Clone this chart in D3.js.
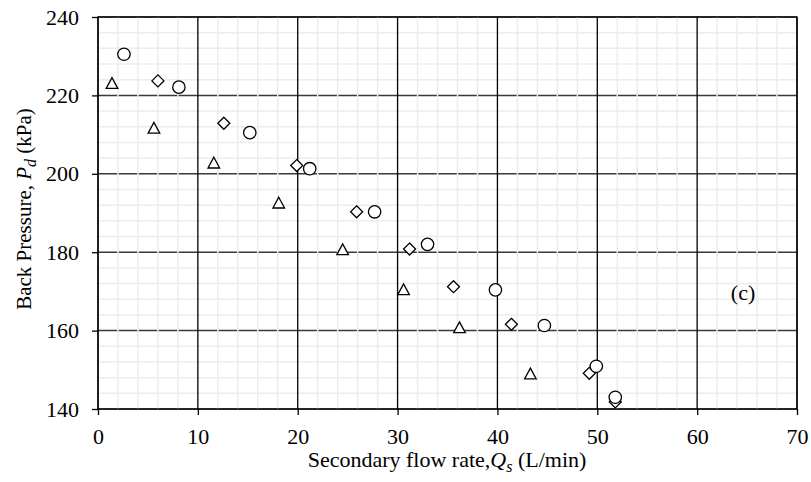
<!DOCTYPE html>
<html>
<head>
<meta charset="utf-8">
<script src="https://cdn.jsdelivr.net/npm/d3@7"></script>
<style>
  body { margin: 0; background: #fff; }
  text { font-family: "Liberation Serif", "Times New Roman", serif; fill: #000; }
</style>
</head>
<body>
<div id="chart"></div>
<script>
// series: [Qs (L/min), Pd (kPa)]
var circleData = [
  [2.6, 230.5], [8.1, 222.1], [15.2, 210.5], [21.2, 201.3], [27.7, 190.3],
  [33.0, 182.0], [39.8, 170.4], [44.7, 161.3], [49.9, 150.9], [51.8, 143.0]
];
var diamondData = [
  [6.0, 223.7], [12.6, 212.9], [19.9, 202.1], [25.9, 190.3], [31.2, 180.8],
  [35.6, 171.2], [41.4, 161.6], [49.2, 149.1], [51.8, 141.8]
];
var triangleData = [
  [1.4, 223.0], [5.6, 211.6], [11.6, 202.7], [18.1, 192.5], [24.5, 180.6],
  [30.6, 170.4], [36.2, 160.7], [43.3, 148.9]
];
var xTicks = [0, 10, 20, 30, 40, 50, 60, 70];
var yTicks = [140, 160, 180, 200, 220, 240];
var xMinor = d3.range(0, 70.1, 2);
var yMinor = d3.range(140, 240.1, 4);

var margin = { top: 17, right: 14, bottom: 73, left: 98 },
  width = 811 - margin.left - margin.right,
  height = 482 - margin.top - margin.bottom;

var svg = d3
  .select("#chart")
  .append("svg")
  .attr("width", 811)
  .attr("height", 482)
  .append("g")
  .attr("transform", "translate(" + margin.left + "," + margin.top + ")");

var x = d3.scaleLinear().domain([0, 70]).range([0, width]);
var y = d3.scaleLinear().domain([140, 240]).range([height, 0]);

// major horizontal grid (dark)
svg
  .selectAll(".hmajor")
  .data(yTicks)
  .enter()
  .append("line")
  .attr("x1", 0)
  .attr("x2", width)
  .attr("y1", (d) => y(d))
  .attr("y2", (d) => y(d))
  .attr("stroke", "#3a3a3a")
  .attr("stroke-width", 1.5);

// minor grid (light), vertical drawn over the dark horizontals
svg
  .selectAll(".hminor")
  .data(yMinor.filter((d) => d % 20 !== 0))
  .enter()
  .append("line")
  .attr("x1", 0)
  .attr("x2", width)
  .attr("y1", (d) => y(d))
  .attr("y2", (d) => y(d))
  .attr("stroke", "#ececec")
  .attr("stroke-width", 1.5);

svg
  .selectAll(".vminor")
  .data(xMinor.filter((d) => d % 10 !== 0))
  .enter()
  .append("line")
  .attr("y1", 0)
  .attr("y2", height)
  .attr("x1", (d) => x(d))
  .attr("x2", (d) => x(d))
  .attr("stroke", "#ececec")
  .attr("stroke-width", 1.5);

// major vertical grid (black)
svg
  .selectAll(".vmajor")
  .data(xTicks)
  .enter()
  .append("line")
  .attr("y1", 0)
  .attr("y2", height)
  .attr("x1", (d) => x(d))
  .attr("x2", (d) => x(d))
  .attr("stroke", "#000")
  .attr("stroke-width", 1.3);

// frame
svg
  .append("rect")
  .attr("width", width)
  .attr("height", height)
  .attr("fill", "none")
  .attr("stroke", "#000")
  .attr("stroke-width", 1.3);

// axes
var xaxis = svg
  .append("g")
  .attr("transform", "translate(0," + height + ")")
  .call(d3.axisBottom(x).tickValues(xTicks).tickSize(6).tickSizeOuter(0).tickPadding(13));
var yaxis = svg
  .append("g")
  .call(d3.axisLeft(y).tickValues(yTicks).tickSize(6).tickSizeOuter(0).tickPadding(13));

[xaxis, yaxis].forEach(function (a) {
  a.select(".domain").remove();
  a.selectAll("line").attr("stroke", "#000").attr("stroke-width", 1.3);
  a.selectAll("text")
    .style("font-size", "22px")
    .style("font-family", '"Liberation Serif", "Times New Roman", serif')
    .attr("fill", "#000");
});

// markers
var mk = svg.append("g").attr("fill", "#fff").attr("stroke", "#000").attr("stroke-width", 1.3);

mk.selectAll(".tri")
  .data(triangleData)
  .enter()
  .append("path")
  .attr("d", "M0,-6 L5.8,4.8 L-5.8,4.8 Z")
  .attr("transform", (d) => "translate(" + x(d[0]) + "," + y(d[1]) + ")");

mk.selectAll(".dia")
  .data(diamondData)
  .enter()
  .append("path")
  .attr("d", "M0,-6 L6,0 L0,6 L-6,0 Z")
  .attr("transform", (d) => "translate(" + x(d[0]) + "," + y(d[1]) + ")");

mk.selectAll(".cir")
  .data(circleData)
  .enter()
  .append("circle")
  .attr("cx", (d) => x(d[0]))
  .attr("cy", (d) => y(d[1]))
  .attr("r", 6.2);

// panel tag
svg
  .append("text")
  .attr("x", x(64.6))
  .attr("y", y(167.8))
  .attr("text-anchor", "middle")
  .style("font-size", "22px")
  .text("(c)");

// x label
var xl = svg
  .append("text")
  .attr("x", 447 - margin.left)
  .attr("y", height + 58)
  .attr("text-anchor", "middle")
  .style("font-size", "22px");
xl.append("tspan").text("Secondary flow rate,");
xl.append("tspan").style("font-style", "italic").text("Q");
xl.append("tspan").style("font-style", "italic").style("font-size", "16px").attr("dy", 5).text("s");
xl.append("tspan").attr("dy", -5).text(" (L/min)");

// y label
var yl = svg
  .append("text")
  .attr("transform", "rotate(-90)")
  .attr("x", -192)
  .attr("y", -67)
  .attr("text-anchor", "middle")
  .style("font-size", "21px");
yl.append("tspan").text("Back Pressure, ");
yl.append("tspan").style("font-style", "italic").text("P");
yl.append("tspan").style("font-style", "italic").style("font-size", "16px").attr("dy", 5).text("d");
yl.append("tspan").attr("dy", -5).text("  (kPa)");
</script>
</body>
</html>
